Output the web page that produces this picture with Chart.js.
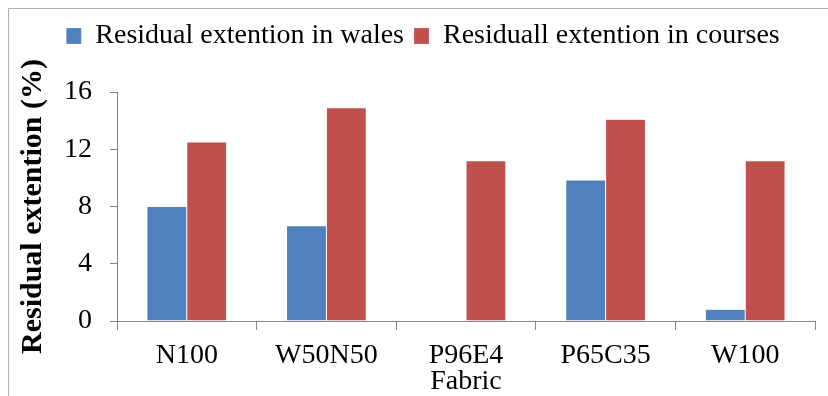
<!DOCTYPE html>
<html>
<head>
<meta charset="utf-8">
<script src="https://cdn.jsdelivr.net/npm/chart.js@4/dist/chart.umd.min.js"></script>
<style>
  html, body { margin: 0; padding: 0; background: #fff; }
  #wrap { width: 828px; height: 396px; position: relative; }
</style>
</head>
<body>
<div id="wrap"><canvas id="c" width="828" height="396"></canvas></div>
<script>
const categories = ['N100', 'W50N50', 'P96E4', 'P65C35', 'W100'];
const walesValues = [8.0, 6.66, 0, 9.85, 0.82];
const coursesValues = [12.5, 14.9, 11.2, 14.1, 11.2];
const seriesNames = ['Residual extention in wales', 'Residuall extention in courses'];
const yTicks = [0, 4, 8, 12, 16];
const xTitle = 'Fabric';
const yTitle = 'Residual extention (%)';

const FONT = "'Liberation Serif', 'Times New Roman', serif";

const borderPlugin = {
  id: 'outerBorder',
  beforeInit(chart) {
    const origFit = chart.legend.fit;
    chart.legend.fit = function () {
      origFit.bind(chart.legend)();
      this.height += 32;
    };
  },
  beforeDraw(chart) {
    const ctx = chart.ctx;
    ctx.save();
    ctx.fillStyle = '#fff';
    ctx.fillRect(0, 0, chart.width, chart.height);
    ctx.strokeStyle = '#b0b0b0';
    ctx.lineWidth = 1;
    ctx.beginPath();
    ctx.moveTo(8.5, chart.height);
    ctx.lineTo(8.5, 8.5);
    ctx.lineTo(chart.width, 8.5);
    ctx.stroke();
    ctx.restore();
  }
};

new Chart(document.getElementById('c'), {
  type: 'bar',
  data: {
    labels: categories,
    datasets: [
      { label: seriesNames[0], data: walesValues, backgroundColor: '#4F81BD', borderColor: 'rgba(255,255,255,0.35)', borderWidth: 0.5, categoryPercentage: 0.571, barPercentage: 1.0 },
      { label: seriesNames[1], data: coursesValues, backgroundColor: '#C0504D', borderColor: 'rgba(255,255,255,0.35)', borderWidth: 0.5, categoryPercentage: 0.571, barPercentage: 1.0 }
    ]
  },
  options: {
    responsive: false,
    animation: false,
    devicePixelRatio: 1,
    layout: { padding: { left: 18, right: 0, top: 12, bottom: 0 } },
    plugins: {
      legend: {
        position: 'top',
        labels: {
          font: { family: FONT, size: 28 },
          color: '#000',
          boxWidth: 15,
          boxHeight: 16,
          padding: 10
        }
      },
      tooltip: { enabled: false }
    },
    scales: {
      x: {
        grid: { display: true, drawOnChartArea: false, drawTicks: true, tickLength: 9, color: '#868686', offset: true },
        border: { display: true, color: '#868686' },
        ticks: { font: { family: FONT, size: 28 }, color: '#000', padding: 9 },
        title: { display: true, text: xTitle, font: { family: FONT, size: 28, lineHeight: 1.05 }, color: '#000', padding: { top: 0, bottom: 0 } },
        afterFit(scale) { scale.height = 75; }
      },
      y: {
        min: 0, max: 16,
        afterBuildTicks(scale) { scale.ticks = yTicks.map(v => ({ value: v })); },
        grid: { display: true, drawOnChartArea: false, drawTicks: true, tickLength: 7, color: '#868686' },
        border: { display: true, color: '#868686' },
        ticks: { font: { family: FONT, size: 28 }, color: '#000', padding: 18 },
        title: { display: true, text: yTitle, font: { family: FONT, size: 30, weight: 'bold', lineHeight: 1.0 }, color: '#000', padding: 0 },
        afterFit(scale) { scale.width = 99; }
      },
      yR: {
        position: 'right',
        display: true,
        grid: { display: false },
        border: { display: false },
        ticks: { display: false },
        afterFit(scale) { scale.width = 13; }
      }
    }
  },
  plugins: [borderPlugin]
});
</script>
</body>
</html>
